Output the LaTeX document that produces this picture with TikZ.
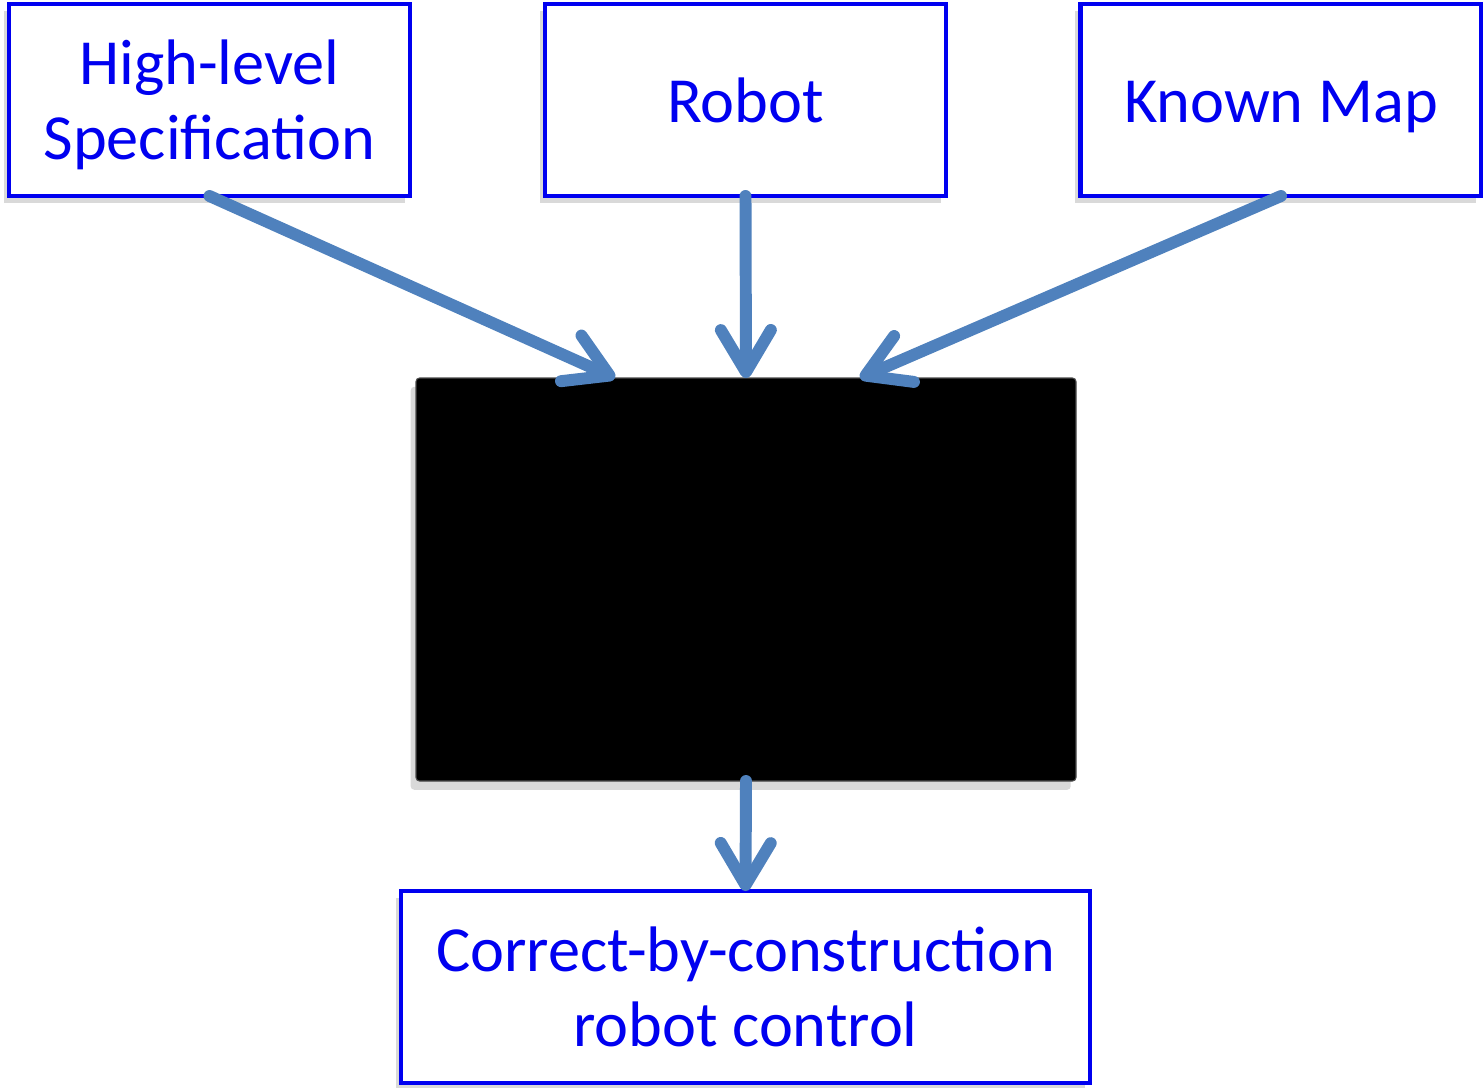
\documentclass[tikz,border=0pt]{standalone}
\usepackage{fontspec}
\setmainfont{Carlito}
\usetikzlibrary{arrows.meta,shadows}

\definecolor{boxblue}{RGB}{0,0,240}
\definecolor{arrowblue}{RGB}{79,129,189}

\tikzset{
  inbox/.style={draw=boxblue, line width=1.15pt, fill=white, text=boxblue,
    minimum width=4.01cm, minimum height=1.92cm, align=center, outer sep=0pt,
    text depth=0pt, font=\fontsize{18.3}{21.3}\selectfont,
    drop shadow={shadow xshift=-1.5pt, shadow yshift=-2pt, opacity=0.3}},
  oneline/.style={text height=13pt},
  flow/.style={draw=arrowblue, line width=3.4pt, line cap=round,
    -{Straight Barb[length=0.42cm, width=0.5cm, round]}}
}

\begin{document}
\begin{tikzpicture}
  \useasboundingbox (0,0) rectangle (14.83,-10.87);

  %-------------------------
  % Entradas
  %-------------------------
  \node[inbox] (spec)  at (2.095,-1.00) {High-level\\Specification};
  \node[inbox, oneline] (robot) at (7.455,-1.00) {Robot};
  \node[inbox, oneline] (map)   at (12.81,-1.00) {Known Map};

  %-------------------------
  % Bloque central
  %-------------------------
  \node[fill=black, draw=black!70, line width=0.3pt, rounded corners=1pt,
        minimum width=6.60cm, minimum height=4.03cm, outer sep=0pt,
        drop shadow={shadow xshift=-1.5pt, shadow yshift=-2.5pt, opacity=0.3}]
        (synth) at (7.46,-5.795) {};

  %-------------------------
  % Salida
  %-------------------------
  \node[inbox, minimum width=6.89cm] (ctrl) at (7.455,-9.87)
        {Correct-by-construction\\robot control};

  %-------------------------
  % Flechas
  %-------------------------
  \draw[flow] (spec.south)  -- ([xshift=-1.31cm]synth.north);
  \draw[flow] (robot.south) -- (synth.north);
  \draw[flow] (map.south)   -- ([xshift=1.14cm]synth.north);
  \draw[flow] (synth.south) -- (ctrl.north);

\end{tikzpicture}
\end{document}
